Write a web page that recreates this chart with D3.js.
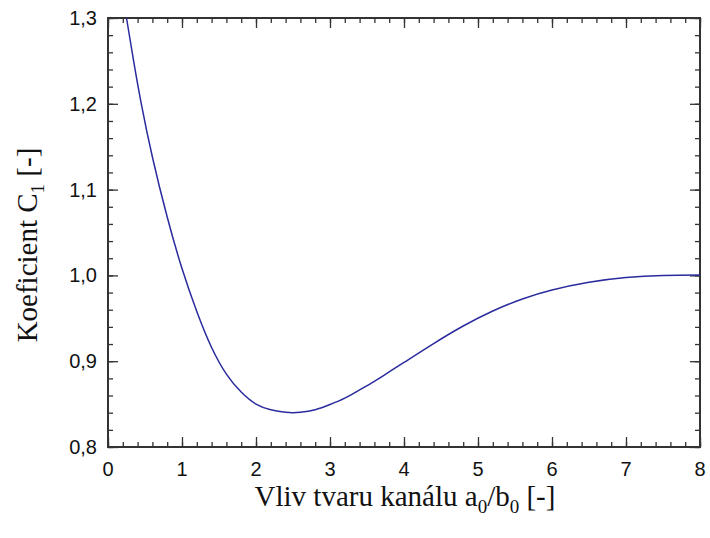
<!DOCTYPE html>
<html><head><meta charset="utf-8">
<script src="https://cdn.jsdelivr.net/npm/d3@7"></script>
<style>body{margin:0;background:#fff}</style>
</head><body>
<svg id="c" width="710" height="538"></svg>
<script>
const xVals = [0.25,0.35,0.45,0.6,0.8,1.0,1.2,1.4,1.6,1.8,2.0,2.2,2.4,2.5,2.6,2.8,3.0,3.2,3.4,3.6,3.8,4.0,4.4,4.8,5.2,5.6,6.0,6.5,7.0,7.5,8.0];
const yVals = [1.300,1.248,1.200,1.138,1.068,1.008,0.958,0.916,0.885,0.864,0.850,0.8435,0.8405,0.840,0.8405,0.8435,0.8495,0.857,0.8665,0.8765,0.8875,0.8985,0.9205,0.941,0.9585,0.9725,0.983,0.992,0.9975,1.000,1.0005];
const xTicks = [0,1,2,3,4,5,6,7,8];
const yTicks = [0.8,0.9,1.0,1.1,1.2,1.3];
const xTickLabels = ["0","1","2","3","4","5","6","7","8"];
const yTickLabels = ["0,8","0,9","1,0","1,1","1,2","1,3"];

const svg = d3.select("#c");
const L=108,R=700,T=18,B=447;
const x = d3.scaleLinear().domain([0,8]).range([L,R]);
const y = d3.scaleLinear().domain([0.8,1.3]).range([B,T]);
const axisColor="#333";

const xMinor = d3.range(0,8.0001,0.2);
const yMinor = d3.range(0.8,1.30001,0.02);

function styleAxis(g){
  g.select(".domain").remove();
  g.selectAll(".tick line").attr("stroke",axisColor).attr("stroke-width",1.3);
  g.selectAll("text").remove();
}
// minor ticks
svg.append("g").attr("transform",`translate(0,${B})`).call(d3.axisTop(x).tickValues(xMinor).tickSize(5)).call(styleAxis);
svg.append("g").attr("transform",`translate(0,${T})`).call(d3.axisBottom(x).tickValues(xMinor).tickSize(5)).call(styleAxis);
svg.append("g").attr("transform",`translate(${L},0)`).call(d3.axisRight(y).tickValues(yMinor).tickSize(5)).call(styleAxis);
svg.append("g").attr("transform",`translate(${R},0)`).call(d3.axisLeft(y).tickValues(yMinor).tickSize(5)).call(styleAxis);
// major ticks
svg.append("g").attr("transform",`translate(0,${B})`).call(d3.axisTop(x).tickValues(xTicks).tickSize(10)).call(styleAxis);
svg.append("g").attr("transform",`translate(0,${T})`).call(d3.axisBottom(x).tickValues(xTicks).tickSize(10)).call(styleAxis);
svg.append("g").attr("transform",`translate(${L},0)`).call(d3.axisRight(y).tickValues(yTicks).tickSize(10)).call(styleAxis);
svg.append("g").attr("transform",`translate(${R},0)`).call(d3.axisLeft(y).tickValues(yTicks).tickSize(10)).call(styleAxis);

// frame
svg.append("rect").attr("x",L).attr("y",T).attr("width",R-L).attr("height",B-T)
  .attr("fill","none").attr("stroke",axisColor).attr("stroke-width",2);

// tick labels
svg.append("g").selectAll("text").data(xTicks).join("text")
  .attr("x",d=>x(d)).attr("y",B+29).attr("text-anchor","middle")
  .attr("font-family","Liberation Sans, Arial, sans-serif").attr("font-size",20).attr("fill","#111")
  .text((d,i)=>xTickLabels[i]);
svg.append("g").selectAll("text").data(yTicks).join("text")
  .attr("x",L-11).attr("y",d=>y(d)+7).attr("text-anchor","end")
  .attr("font-family","Liberation Sans, Arial, sans-serif").attr("font-size",20).attr("fill","#111")
  .text((d,i)=>yTickLabels[i]);

// curve
const pts = xVals.map((v,i)=>[v,yVals[i]]);
svg.append("path").datum(pts)
  .attr("d",d3.line().x(d=>x(d[0])).y(d=>y(d[1])).curve(d3.curveNatural))
  .attr("fill","none").attr("stroke","#2b2b9e").attr("stroke-width",1.5);

// axis titles
const serif="Liberation Serif, Times New Roman, serif";
const xt = svg.append("text").attr("x",405).attr("y",506).attr("text-anchor","middle")
  .attr("font-family",serif).attr("font-size",29).attr("fill","#111");
xt.append("tspan").text("Vliv tvaru kanálu a");
xt.append("tspan").attr("font-size",19).attr("dy",7).text("0");
xt.append("tspan").attr("dy",-7).text("/b");
xt.append("tspan").attr("font-size",19).attr("dy",7).text("0");
xt.append("tspan").attr("dy",-7).text(" [-]");

const yt = svg.append("text").attr("transform",`translate(37,245) rotate(-90)`).attr("text-anchor","middle")
  .attr("font-family",serif).attr("font-size",29).attr("fill","#111");
yt.append("tspan").text("Koeficient C");
yt.append("tspan").attr("font-size",19).attr("dy",7).text("1");
yt.append("tspan").attr("dy",-7).text(" [-]");
</script>
</body></html>
